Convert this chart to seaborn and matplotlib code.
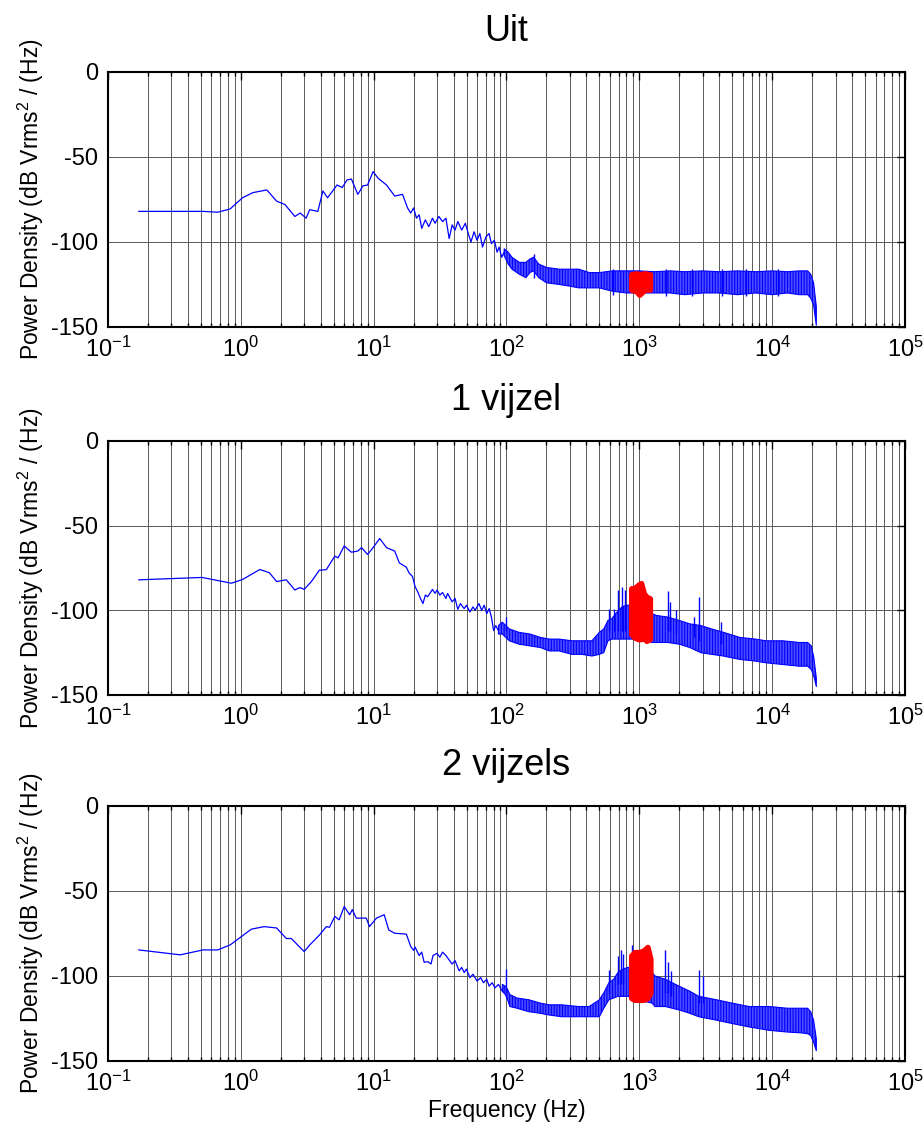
import matplotlib
matplotlib.use("Agg")
import matplotlib.pyplot as plt
import seaborn as sns
from matplotlib.ticker import LogLocator, FixedLocator, FixedFormatter, NullFormatter

# ---------------- data ----------------
titles = ["Uit", "1 vijzel", "2 vijzels"]
x_label = "Frequency (Hz)"
y_label = "Power Density (dB Vrms$^2$ / (Hz)"
xtick_vals = [1e-1, 1e0, 1e1, 1e2, 1e3, 1e4, 1e5]
xtick_labels = [r"$10^{-1}$", r"$10^{0}$", r"$10^{1}$", r"$10^{2}$", r"$10^{3}$", r"$10^{4}$", r"$10^{5}$"]
ytick_vals = [0, -50, -100, -150]
ytick_labels = ["0", "-50", "-100", "-150"]

# Panel 1: Uit  (single trace up to ~100 Hz)
line_f_uit = [0.17, 0.52, 0.67, 0.83, 1.03, 1.23, 1.57, 1.86, 2.15, 2.55, 2.8, 3.1, 3.3, 3.8, 4.15, 4.5,
              5.3, 5.8, 6.3, 6.8, 7.6, 8.3, 9.0, 9.9, 10.8, 12.5, 14.4, 16.5, 18,
              19, 20, 21, 22, 23, 24.5, 26, 27.7, 29, 31, 33, 35, 37, 39, 41, 43, 46, 49, 52, 54, 57, 60, 63,
              66, 70, 74, 77, 81, 85, 88, 92, 96]
line_db_uit = [-82, -82, -82.5, -80.6, -74, -71, -69.4, -76, -78, -85, -83, -86, -81, -82, -70, -74,
               -66.5, -68, -63.5, -63, -72, -67, -66.5, -58.6, -62.5, -66.5, -73, -72, -80,
               -83, -80, -86, -84, -92, -87, -91, -86, -89, -85, -88, -86, -98, -90, -93, -88, -93, -89, -96,
               -100, -94, -99, -95, -103, -97, -95, -101, -99, -106, -103, -109, -106]
# dense noisy part above ~100 Hz: upper / lower envelope
band_f_uit = [96, 103, 110, 125, 140, 150, 160, 175, 200, 250, 300, 350, 420, 500, 630, 800, 1000, 1300, 1700,
              2200, 3000, 4000, 5500, 7500, 10000, 13000, 16000, 18500, 19500, 20500, 21500]
band_hi_uit = [-104, -106, -109, -112, -112, -110, -109, -113, -115, -116, -116, -116, -118, -118, -117, -117,
               -117, -117.5, -117, -117.5, -117, -117.5, -117, -117.5, -117, -117.5, -117, -117, -119, -124, -138]
band_lo_uit = [-108, -113, -116, -119, -121, -118, -117, -121, -124, -125, -126, -127, -127, -127, -129, -130,
               -130, -130, -130, -131, -130, -130, -131, -130, -131, -130, -131, -131, -133, -137, -149]
spike_f_uit = [160, 630, 1600, 2500, 4200, 6300, 11000]
spike_hi_uit = [-107, -116, -116, -116, -116, -116, -116]
spike_lo_uit = [-121, -131, -132, -132, -132, -132, -132]
red_f_uit = [870, 950, 1000, 1100, 1200]
red_hi_uit = [-119, -118.5, -119, -118.5, -119]
red_lo_uit = [-128, -129, -131, -128, -128]

# Panel 2: 1 vijzel
line_f_v1 = [0.17, 0.51, 0.85, 1.03, 1.39, 1.64, 1.86, 2.2, 2.55, 2.78, 3.0, 3.4, 3.9, 4.4, 5.1, 5.4, 6.0,
             6.8, 7.6, 8.1, 9.0, 9.9, 11.1, 12.5, 14.4, 15.6, 17.6,
             18.5, 19.6, 20.5, 21.6, 22.5, 23.5, 24.5, 25.5, 27.7, 29, 30, 31.5, 33, 35, 36, 39, 41, 43, 45, 48,
             50, 53, 56, 58, 62, 65, 68, 71, 74, 77, 80, 83, 87]
line_db_v1 = [-82, -80.6, -84, -81.8, -75.9, -77.8, -83, -82, -88, -86.6, -87.6, -83, -76.3, -76, -68, -69, -62,
              -65.7, -65, -63, -67, -63, -57.6, -63, -65, -72, -74.5,
              -78, -80, -86, -89.5, -93, -96, -91, -92, -87.7, -90, -88, -91, -89.5, -93, -90, -95, -93, -99.4,
              -96, -99, -97, -101, -98, -100, -96, -100, -97, -102, -99, -104, -112, -109, -112]
band_f_v1 = [87, 93, 105, 124, 150, 180, 210, 250, 310, 370, 440, 500, 540, 580, 620, 680, 740, 800, 850, 1000,
             1250, 1340, 1640, 2000, 2400, 2900, 3500, 4300, 5700, 7500, 9000, 12000, 16000, 18500, 19700,
             20600, 21500]
band_hi_v1 = [-109, -107, -111, -113, -114, -116, -117, -117, -118, -118, -118, -113, -111, -106, -105, -101,
              -98, -97, -97, -100, -102, -103, -104, -106, -108, -109, -111, -113, -116, -117, -118, -118, -119,
              -119, -121, -128, -140]
band_lo_v1 = [-114, -114, -118, -120, -121, -122, -124, -124, -126, -126, -127, -126, -125, -118, -117, -117,
              -117, -117, -117, -117, -119, -119, -119, -120, -122, -125, -126, -127, -129, -130, -131, -132, -133,
              -133, -135, -139, -145]
spike_f_v1 = [100, 590, 650, 690, 740, 780, 1640, 1700, 1900, 2560, 2800, 4100]
spike_hi_v1 = [-104, -99, -99, -88, -86, -88, -88.6, -95, -100, -104, -92, -107]
spike_lo_v1 = [-112, -112, -112, -112, -112, -112, -112, -112, -114, -116, -118, -120]
red_f_v1 = [870, 920, 980, 1030, 1080, 1130, 1200]
red_hi_v1 = [-87, -87, -85, -84, -90, -92, -93]
red_lo_v1 = [-114, -116, -117, -117, -116, -118, -117]

# Panel 3: 2 vijzels
line_f_v2 = [0.17, 0.35, 0.52, 0.67, 0.83, 1.2, 1.5, 1.86, 2.2, 2.4, 3.0, 3.3, 3.9, 4.4, 4.65, 5.1, 5.5, 6.0,
             6.6, 6.9, 7.4, 8.8, 9.3, 10.5, 12, 13, 14.4, 17.6,
             18.3, 19, 20, 20.5, 22, 23, 24, 25.6, 27, 28, 30, 31.5, 33, 35, 37, 39, 41, 44, 46, 48, 50, 53, 56,
             60, 64, 67, 71, 74, 78, 82, 87, 93]
line_db_v2 = [-84.7, -87.6, -84.7, -84.7, -81.8, -72.5, -71, -71.8, -78, -78, -85.7, -81.8, -76, -71, -71.4, -65,
              -67, -59.2, -64, -61, -66, -66, -71, -66, -64, -73, -74.9, -75.4,
              -79, -82.7, -85, -83, -88, -86, -92, -91.6, -93, -88, -86.7, -89, -86, -88, -90.6, -93, -91, -97,
              -95, -98, -96, -101, -99, -103, -101, -104, -102, -106, -104, -107, -105, -109]
band_f_v2 = [93, 98, 102, 106, 120, 147, 180, 210, 260, 350, 420, 500, 540, 590, 640, 690, 750, 820, 900, 1000,
             1100, 1250, 1310, 1570, 1990, 2400, 2800, 3800, 5000, 6700, 9500, 13000, 16600, 18500, 19500,
             20500, 21500]
band_hi_v2 = [-105, -106, -108, -111, -113, -114, -116, -117, -117, -118, -118, -114, -110, -104, -102, -98,
              -96, -95, -95, -95, -96, -98, -100, -102, -106, -109, -112, -114, -116, -118, -118, -119, -119,
              -119, -121, -126, -137]
band_lo_v2 = [-109, -111, -114, -118, -119, -121, -122, -123, -124, -124, -124, -124, -119, -114, -113, -112,
              -112, -112, -113, -114, -115, -116, -118, -118, -120, -122, -124, -126, -128, -130, -132, -133,
              -133.5, -134, -135, -139, -144]
spike_f_v2 = [100, 590, 690, 730, 760, 880, 1570, 1650, 1720, 2800, 3000]
spike_hi_v2 = [-96, -96.5, -88, -85, -87, -82, -84.7, -92, -97, -96.5, -100]
spike_lo_v2 = [-110, -110, -105, -105, -105, -105, -110, -110, -112, -116, -116]
red_f_v2 = [870, 920, 1000, 1080, 1150, 1210]
red_hi_v2 = [-88, -86, -86, -85, -83, -90]
red_lo_v2 = [-113, -114, -114, -114, -113, -110]

panels = [
    dict(title=titles[0], lf=line_f_uit, ld=line_db_uit, bf=band_f_uit, bh=band_hi_uit, bl=band_lo_uit,
         sf=spike_f_uit, sh=spike_hi_uit, sl=spike_lo_uit, rf=red_f_uit, rh=red_hi_uit, rl=red_lo_uit),
    dict(title=titles[1], lf=line_f_v1, ld=line_db_v1, bf=band_f_v1, bh=band_hi_v1, bl=band_lo_v1,
         sf=spike_f_v1, sh=spike_hi_v1, sl=spike_lo_v1, rf=red_f_v1, rh=red_hi_v1, rl=red_lo_v1),
    dict(title=titles[2], lf=line_f_v2, ld=line_db_v2, bf=band_f_v2, bh=band_hi_v2, bl=band_lo_v2,
         sf=spike_f_v2, sh=spike_hi_v2, sl=spike_lo_v2, rf=red_f_v2, rh=red_hi_v2, rl=red_lo_v2),
]

# ---------------- style ----------------
sns.set_style("white")
plt.rcParams['font.family'] = ['Liberation Sans', 'DejaVu Sans']
plt.rcParams['mathtext.default'] = 'regular'
plt.rcParams['hatch.linewidth'] = 0.8
for k in ['text.color', 'axes.labelcolor', 'xtick.color', 'ytick.color', 'axes.edgecolor']:
    plt.rcParams[k] = 'black'

fig = plt.figure(figsize=(9.23, 11.33), dpi=100)
ax_rects = [
    [0.117, 0.7114, 0.8635, 0.2251],
    [0.117, 0.3866, 0.8635, 0.2242],
    [0.117, 0.0636, 0.8635, 0.2251],
]

for rect, p in zip(ax_rects, panels):
    ax = fig.add_axes(rect)
    ax.set_xscale('log')
    ax.set_xlim(1e-1, 1e5)
    ax.set_ylim(-150, 0)

    # dense noisy spectrum (envelope)
    ax.fill_between(p['bf'], p['bl'], p['bh'], facecolor=(0.3, 0.3, 1.0), edgecolor='blue',
                    hatch='||||||', linewidth=0.8, zorder=3)
    ax.vlines(p['sf'], p['sl'], p['sh'], color='blue', linewidth=1.0, zorder=3)
    # single trace at low frequencies
    sns.lineplot(x=p['lf'], y=p['ld'], ax=ax, color='blue', linewidth=0.9, zorder=4,
                 estimator=None, sort=False)
    # red highlighted region
    ax.fill_between(p['rf'], p['rl'], p['rh'], color='red', edgecolor='red', linewidth=4,
                    joinstyle='round', zorder=5)

    ax.xaxis.set_major_locator(FixedLocator(xtick_vals))
    ax.xaxis.set_major_formatter(FixedFormatter(xtick_labels))
    ax.xaxis.set_minor_locator(LogLocator(base=10, subs=[2, 3, 4, 5, 6, 7, 8, 9], numticks=20))
    ax.xaxis.set_minor_formatter(NullFormatter())
    ax.yaxis.set_major_locator(FixedLocator(ytick_vals))
    ax.yaxis.set_major_formatter(FixedFormatter(ytick_labels))

    ax.grid(True, which='both', axis='x', color='#5a5a5a', linewidth=0.7)
    ax.grid(True, which='major', axis='y', color='#5a5a5a', linewidth=0.7)
    ax.set_axisbelow(True)

    ax.tick_params(axis='both', which='major', direction='in', length=6, width=1,
                   top=True, right=True, labelsize=17, pad=7, colors='black')
    ax.tick_params(axis='x', which='minor', direction='in', length=3, width=1, top=True, bottom=True)
    for s in ax.spines.values():
        s.set_linewidth(1.5)
        s.set_color('black')
        s.set_visible(True)

    ax.set_title(p['title'], fontsize=26, pad=22, color='black')
    ax.set_ylabel(y_label, fontsize=16.5, labelpad=4)
    ax.set_xlabel("")

ax.set_xlabel(x_label, fontsize=16.5, labelpad=2)

fig.savefig("out.png", dpi=100)
